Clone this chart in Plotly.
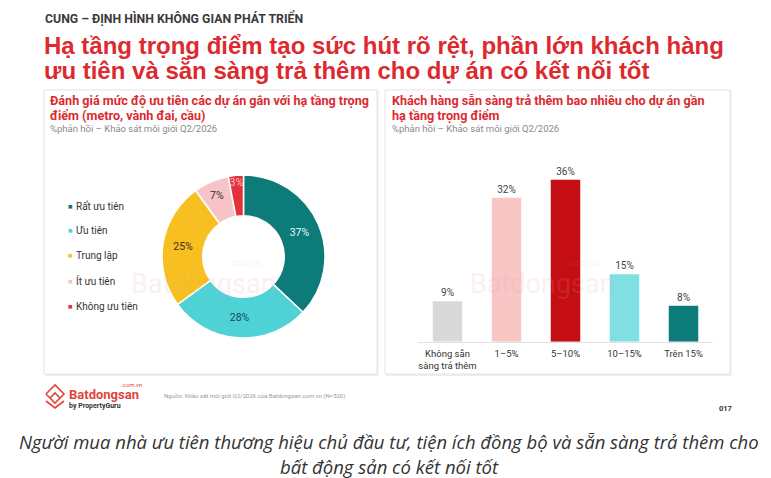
import plotly.graph_objects as go

W, H = 771, 478

# ---------------- data ----------------
pie_labels = ["Rất ưu tiên", "Ưu tiên", "Trung lập", "Ít ưu tiên", "Không ưu tiên"]
pie_values = [37, 28, 25, 7, 3]
pie_colors = ["#0c7b79", "#4fd2d6", "#f7bf1f", "#f6c4c7", "#e2323b"]
pie_text_colors = ["#eafafa", "#17485a", "#3a3020", "#3a2a2a", "#f7c0c0"]

bar_categories = ["Không sẵn<br>sàng trả thêm", "1–5%", "5–10%", "10–15%", "Trên 15%"]
bar_values = [9, 32, 36, 15, 8]
bar_colors = ["#d9d9d9", "#f9c6c6", "#c50d14", "#7fdfe2", "#0c7b79"]

overline = "CUNG – ĐỊNH HÌNH KHÔNG GIAN PHÁT TRIỂN"
title_lines = ["Hạ tầng trọng điểm tạo sức hút rõ rệt, phần lớn khách hàng",
               "ưu tiên và sẵn sàng trả thêm cho dự án có kết nối tốt"]
left_title = ["Đánh giá mức độ ưu tiên các dự án gắn với hạ tầng trọng",
              "điểm (metro, vành đai, cầu)"]
right_title = ["Khách hàng sẵn sàng trả thêm bao nhiêu cho dự án gần",
               "hạ tầng trọng điểm"]
panel_sub = "%phản hồi – Khảo sát môi giới Q2/2026"
source = "Nguồn: Khảo sát môi giới Q2/2026 của Batdongsan.com.vn (N=520)"
page_no = "017"
caption_lines = ["Người mua nhà ưu tiên thương hiệu chủ đầu tư, tiện ích đồng bộ và sẵn sàng trả thêm cho",
                 "bất động sản có kết nối tốt"]


def px(x):
    return x / W


def py(y):
    return 1 - y / H


RED = "#dc2a2f"
FONT = "Roboto"

fig = go.Figure()

# donut
cx, cy, r = 243.5, 256.5, 81.5
fig.add_trace(go.Pie(
    labels=pie_labels, values=pie_values, sort=False, direction="clockwise",
    hole=0.5, marker=dict(colors=pie_colors, line=dict(color="white", width=1.5)),
    text=[f"{v}%" for v in pie_values], textinfo="text", textposition="inside",
    insidetextorientation="horizontal",
    textfont=dict(family=FONT, size=10.5, color=pie_text_colors),
    domain=dict(x=[px(cx - r), px(cx + r)], y=[py(cy + r), py(cy - r)]),
    showlegend=False, hoverinfo="label+percent",
))

# bars
fig.add_trace(go.Bar(
    x=bar_categories, y=bar_values, marker=dict(color=bar_colors, line=dict(width=0)),
    text=[f"{v}%" for v in bar_values], textposition="outside", cliponaxis=False,
    textfont=dict(family=FONT, size=9.5, color="#444"),
    xaxis="x", yaxis="y", showlegend=False,
))

fig.update_layout(
    width=W, height=H, margin=dict(l=0, r=0, t=0, b=0),
    paper_bgcolor="white", plot_bgcolor="rgba(0,0,0,0)",
    font=dict(family=FONT, color="#333"),
    bargap=0.5,
    uniformtext=dict(minsize=10, mode="show"),
    xaxis=dict(domain=[px(418), px(713)], anchor="y", showline=True, linecolor="#e2e2e2",
               linewidth=1, ticks="", showgrid=False, zeroline=False, fixedrange=True,
               tickfont=dict(family=FONT, size=9.5, color="#333"), ticklabelstandoff=3),
    yaxis=dict(domain=[py(341.7), py(161.7)], range=[0, 40], visible=False, fixedrange=True),
)

shapes = []
# panels with subtle shadow
for (x0, x1) in [(44, 377), (385, 730)]:
    shapes.append(dict(type="rect", xref="paper", yref="paper", layer="below",
                       x0=px(x0 + 1), x1=px(x1 + 1.5), y0=py(374 + 2), y1=py(90 + 1),
                       line=dict(width=0), fillcolor="#ededed"))
    shapes.append(dict(type="rect", xref="paper", yref="paper", layer="below",
                       x0=px(x0), x1=px(x1), y0=py(374), y1=py(90),
                       line=dict(color="#e4e4e4", width=1), fillcolor="white"))

# logo icon (roof chevrons)
def path(points):
    return "M " + " L ".join(f"{px(a)} {py(b)}" for a, b in points)

shapes.append(dict(type="path", xref="paper", yref="paper",
                   path=path([(46, 394), (55, 385), (64, 394), (55, 403), (46, 394)]),
                   line=dict(color="#e0443c", width=1.6)))
shapes.append(dict(type="path", xref="paper", yref="paper",
                   path=path([(50, 398), (55, 393), (60, 398)]),
                   line=dict(color="#e0443c", width=1.6)))
shapes.append(dict(type="path", xref="paper", yref="paper",
                   path=path([(46, 401), (55, 408), (64, 401)]),
                   line=dict(color="#e0443c", width=1.6)))
fig.update_layout(shapes=shapes)

ann = []


def text(x, y, s, size, color="#333", bold=False, italic=False, xanchor="left", family=FONT, opacity=1):
    if bold:
        s = f"<b>{s}</b>"
    if italic:
        s = f"<i>{s}</i>"
    ann.append(dict(x=px(x), y=py(y), xref="paper", yref="paper", text=s, showarrow=False,
                    xanchor=xanchor, yanchor="middle", opacity=opacity,
                    font=dict(family=family, size=size, color=color)))


# headers
text(43, 18, overline, 12.3, "#3a3a3a", bold=True)
text(42, 46, title_lines[0], 24, RED, bold=True, family="Liberation Sans")
text(42, 71, title_lines[1], 24, RED, bold=True, family="Liberation Sans")

# panel titles
text(48, 101, left_title[0], 12.6, RED, bold=True)
text(48, 115, left_title[1], 12.6, RED, bold=True)
text(48, 128.5, panel_sub, 9.5, "#8a8a8a")
text(390, 101, right_title[0], 12.6, RED, bold=True)
text(390, 115, right_title[1], 12.6, RED, bold=True)
text(390, 128.5, panel_sub, 9.5, "#8a8a8a")

# watermarks
for wx in [203, 542]:
    text(wx, 284, "Batdongsan", 27, "#e8a0a0", xanchor="center", opacity=0.15)
    text(wx + 42, 263, ".com.vn", 9, "#e8a0a0", xanchor="center", opacity=0.15)

# manual legend
legend_y = [206, 231, 256, 281, 306]
for lab, col, ly in zip(pie_labels, pie_colors, legend_y):
    text(65.5, ly, "■", 7.5, col)
    text(74, ly, lab, 10, "#333")

# footer
text(67, 394.5, "Batdongsan", 13, "#e0443c", bold=True)
text(119, 384.5, ".com.vn", 6, "#e0443c")
text(67, 405.5, "by PropertyGuru", 7, "#333", bold=True)
text(162, 396, source, 6, "#9a9a9a")
text(717, 408, page_no, 7.5, "#333", bold=True)

# caption
text(389, 441, caption_lines[0], 18.5, "#333", italic=True, xanchor="center", family="Open Sans")
text(389, 466, caption_lines[1], 18.5, "#333", italic=True, xanchor="center", family="Open Sans")

fig.update_layout(annotations=ann)

fig.write_html("out.html")
